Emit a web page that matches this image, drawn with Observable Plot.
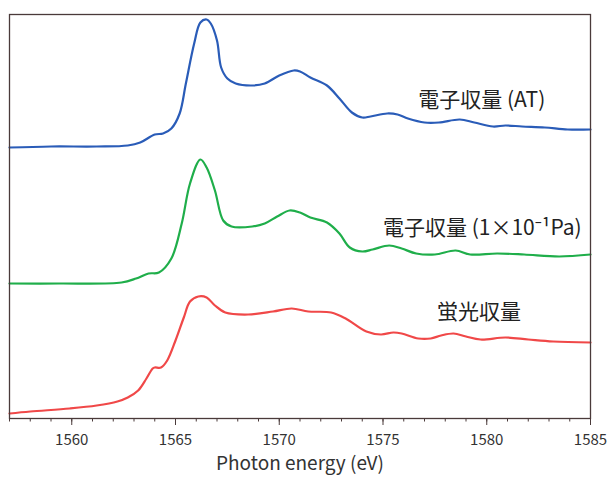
<!DOCTYPE html>
<html>
<head>
<meta charset="utf-8">
<script src="https://cdn.jsdelivr.net/npm/d3@7"></script>
<script src="https://cdn.jsdelivr.net/npm/@observablehq/plot@0.6"></script>
<style>
  html, body { margin: 0; padding: 0; background: #fff; }
  svg { display: block; }
</style>
</head>
<body>
<div id="chart"></div>
<script>
// Photon energy (eV) and offset intensities (arbitrary units)
const blueE = [1557,1559,1561.2,1562.7,1563.3,1564.0,1564.4,1564.8,1565.2,1565.5,1565.9,1566.2,1566.5,1566.7,1567.0,1567.2,1567.5,1567.9,1568.7,1569.3,1570.0,1570.7,1571.0,1571.5,1572.3,1572.9,1573.5,1574.0,1574.4,1575.2,1575.7,1576.2,1577.0,1577.7,1578.7,1579.4,1580.3,1580.9,1581.7,1582.8,1583.9,1585];
const blueV = [271,272,272,273,276,284,285,290,305,335,375,396,399,395,378,351,340,335,333,335,343,348,347,341,333,320,306,301,302,305,304,300,296,296,299,296,292,293,292,291,289,289];

const greenE = [1557,1559.4,1562.4,1563.1,1563.7,1564.2,1564.8,1565.3,1565.7,1566.2,1566.5,1566.9,1567.3,1567.7,1568.7,1569.3,1569.9,1570.5,1571.0,1571.5,1572.3,1572.9,1573.4,1574.0,1574.5,1575.3,1575.9,1576.6,1577.5,1578.5,1579.2,1580.5,1581.8,1583.5,1585];
const greenV = [135,135,136,140,145,146,160,195,235,259,251,228,198,192,192,195,202,208,206,201,196,185,171,167,169,173,170,165,164,168,164,165,164,162,164];

const redE = [1557,1558.0,1559.9,1561.2,1562.2,1562.7,1563.2,1563.6,1563.9,1564.0,1564.3,1564.6,1565.0,1565.4,1565.7,1566.1,1566.5,1566.9,1567.4,1568.5,1569.7,1570.6,1571.4,1572.5,1573.2,1574.2,1574.9,1575.5,1575.9,1576.7,1577.3,1577.8,1578.4,1579.0,1579.7,1580.9,1582.0,1583.2,1585];
const redV = [5,7,10,13,17,21,28,40,50,51,51,58,78,101,117,122,121,113,106,104,107,110,107,106,100,87,84,86,85,80,80,83,85,82,79,81,79,77,76];

const seriesLabels = ["電子収量 (AT)", "電子収量 (1×10⁻¹Pa)", "蛍光収量"];
const labelE = [1576.7, 1575.0, 1577.6];
const labelV = [318, 190, 106];
const majorTicks = [1560, 1565, 1570, 1575, 1580, 1585];
const minorTicks = d3.range(1557, 1586, 1);
const xTitle = "Photon energy (eV)";

const toRows = (E, V) => E.map((e, i) => ({e, v: V[i]}));
const blue = toRows(blueE, blueV);
const green = toRows(greenE, greenV);
const red = toRows(redE, redV);
const labels = seriesLabels.map((t, i) => ({t, e: labelE[i], v: labelV[i]}));

const font = "'Noto Sans CJK JP', 'Noto Sans', sans-serif";

const chart = Plot.plot({
  width: 610,
  height: 477,
  marginLeft: 9,
  marginRight: 20,
  marginTop: 14,
  marginBottom: 59,
  style: {fontFamily: font, background: "#fff", color: "#333"},
  x: {domain: [1557, 1585]},
  y: {domain: [0, 404], axis: null},
  marks: [
    Plot.line(red, {x: "e", y: "v", stroke: "#f04848", strokeWidth: 2.2, curve: "catmull-rom"}),
    Plot.line(green, {x: "e", y: "v", stroke: "#1fae4a", strokeWidth: 2.2, curve: "catmull-rom"}),
    Plot.line(blue, {x: "e", y: "v", stroke: "#2a5cb8", strokeWidth: 2.2, curve: "catmull-rom"}),
    Plot.frame({stroke: "#4a3a3a", strokeWidth: 1.3}),
    Plot.axisX({ticks: minorTicks, tickSize: 3.5, text: null, label: null, stroke: "#4a3a3a"}),
    Plot.axisX({ticks: majorTicks, tickSize: 7, tickPadding: 9, fontSize: 15, tickFormat: d3.format("d"), label: null, stroke: "#4a3a3a", fill: "#333"}),
    Plot.text([xTitle], {frameAnchor: "bottom", dy: 51, fontSize: 19, fill: "#333", letterSpacing: "0.6px"}),
    Plot.text(labels, {x: "e", y: "v", text: "t", textAnchor: "start", fontSize: 21, fill: "#222"})
  ]
});
document.getElementById("chart").appendChild(chart);
</script>
</body>
</html>
